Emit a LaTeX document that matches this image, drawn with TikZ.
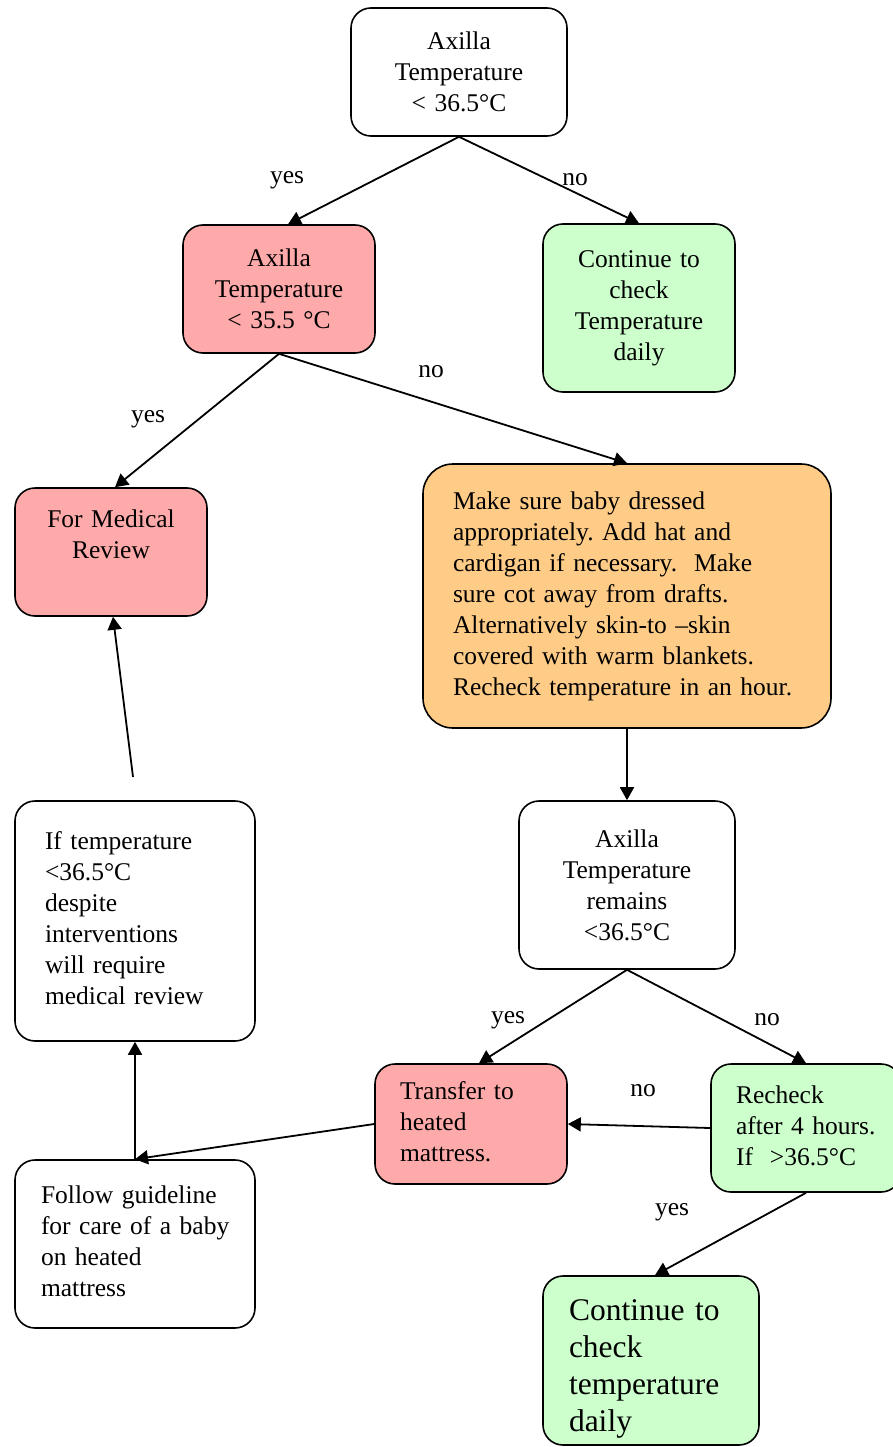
\documentclass[tikz,border=0pt]{standalone}
\usepackage{fontspec}
\setmainfont{Liberation Serif}
\usetikzlibrary{arrows.meta,calc}
\definecolor{pinkbox}{RGB}{255,170,170}
\definecolor{greenbox}{RGB}{204,255,204}
\definecolor{orangebox}{RGB}{255,204,136}
\newcommand{\lines}[1]{\begin{tabular}{@{}l@{}}#1\end{tabular}}
\frenchspacing
\begin{document}
\begin{tikzpicture}[x=1pt,y=-1pt,
  box/.style={draw, line width=1.6pt, rounded corners=20pt, inner ysep=0pt,
    font=\fontsize{25.5}{31}\selectfont},
  cbox/.style={box, align=center},
  lbox/.style={box, align=left},
  arr/.style={line width=1.8pt, -{Triangle[length=13pt,width=14pt]}},
  lab/.style={font=\fontsize{25.5}{31}\selectfont, inner sep=0pt}]
\useasboundingbox (0,0) rectangle (893,1447);
\fill[white] (0,0) rectangle (893,1447);

\node[cbox, fill=white, minimum height=128pt, text width=200pt, inner xsep=8pt] (t1) at (459,72)
  {Axilla\\Temperature\\< 36.5°C};
\node[cbox, fill=pinkbox, minimum height=128pt, text width=176pt, inner xsep=8pt] (a2) at (279,289)
  {Axilla\\Temperature\\< 35.5 °C};
\node[cbox, fill=greenbox, minimum height=168pt, text width=176pt, inner xsep=8pt] (c1) at (639,308)
  {Continue to\\check\\Temperature\\daily};
\node[cbox, fill=pinkbox, minimum height=128pt, text width=176pt, inner xsep=8pt] (med) at (111,552)
  {For Medical\\Review\\[4pt]\mbox{}};
\node[lbox, fill=orangebox, rounded corners=30pt, minimum height=264pt, text width=348pt, inner xsep=30pt] (or) at (627,596)
  {\lines{Make sure baby dressed\\appropriately. Add hat and\\cardigan if necessary.~ Make\\sure cot away from drafts.\\Alternatively skin-to –skin\\covered with warm blankets.\\Recheck temperature in an hour.}};
\node[cbox, fill=white, minimum height=168pt, text width=200pt, inner xsep=8pt] (rem) at (627,885)
  {Axilla\\Temperature\\remains\\<36.5°C};
\node[lbox, fill=white, minimum height=240pt, text width=180pt, inner xsep=30pt] (ift) at (135,921)
  {\lines{If temperature\\<36.5°C\\despite\\interventions\\will require\\medical review}};
\node[lbox, fill=pinkbox, minimum height=120pt, text width=142pt, inner xsep=25pt] (tr) at (471,1124)
  {\lines{Transfer to\\heated\\mattress.}};
\node[lbox, fill=greenbox, minimum height=128pt, text width=140pt, inner xsep=25pt] (rc) at (806,1128)
  {\lines{Recheck\\after 4 hours.\\If~ >36.5°C}};
\node[lbox, fill=white, minimum height=168pt, text width=188pt, inner xsep=26pt] (fg) at (135,1244)
  {\lines{Follow guideline\\for care of a baby\\on heated\\mattress}};
\node[lbox, fill=greenbox, minimum height=169pt, text width=164pt, inner xsep=26pt,
  font=\fontsize{31.5}{37}\selectfont] (cd) at (651,1360.5)
  {\lines{\\[-20pt]Continue to\\check\\temperature\\daily}};

\coordinate (free) at (133,777);

\draw[arr] (t1.south) -- ($(a2.north)+(9,0)$);
\draw[arr] (t1.south) -- (c1.north);
\draw[arr] (a2.south) -- ($(med.north)+(4,0)$);
\draw[arr] (a2.south) -- (or.north);
\draw[arr] (or.south) -- (rem.north);
\draw[arr] (rem.south) -- ($(tr.north)+(8,0)$);
\draw[arr] (rem.south) -- (rc.north);
\draw[arr] (rc.west) -- (tr.east);
\draw[arr] (rc.south) -- ($(cd.north)+(4,0)$);
\draw[arr] (tr.west) -- (fg.north);
\draw[arr] (fg.north) -- (ift.south);
\draw[arr] (free) -- ($(med.south)+(2,0)$);

\node[lab] (l1) at (287,180) {yes};
\node[lab] (l2) at (575,180) {no};
\node[lab] (l3) at (148,419) {yes};
\node[lab] (l4) at (431,372) {no};
\node[lab] (l5) at (508,1020) {yes};
\node[lab] (l6) at (767,1020) {no};
\node[lab] (l7) at (643,1091) {no};
\node[lab] (l8) at (672,1212) {yes};
\end{tikzpicture}
\end{document}
